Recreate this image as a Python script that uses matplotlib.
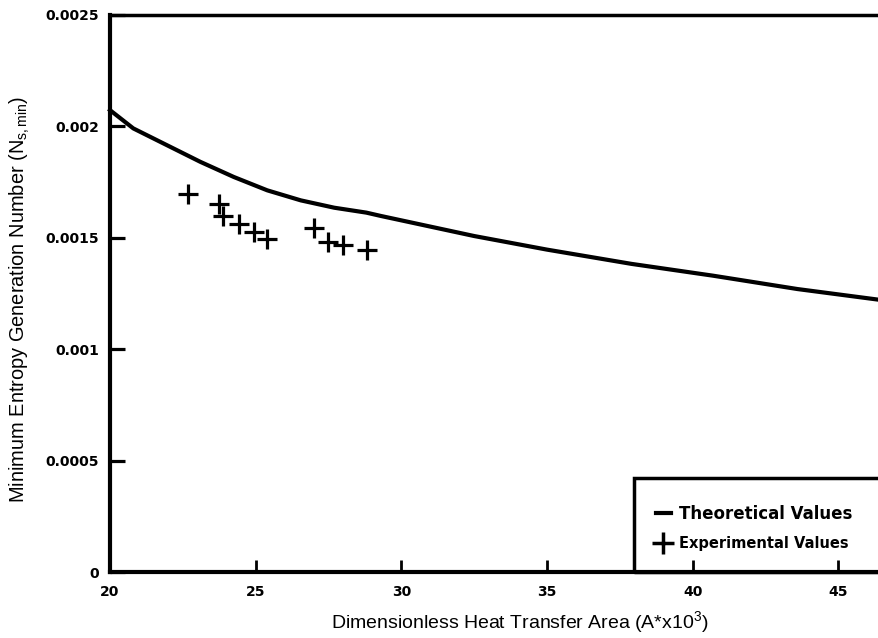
import matplotlib
matplotlib.use("Agg")
import matplotlib.pyplot as plt
from matplotlib.lines import Line2D
from matplotlib.patches import Rectangle

plt.rcParams['font.family'] = ['Liberation Sans', 'DejaVu Sans']
plt.rcParams['mathtext.fontset'] = 'custom'
plt.rcParams['mathtext.rm'] = 'Liberation Sans'
plt.rcParams['mathtext.it'] = 'Liberation Sans:italic'

# theoretical curve
theory_area = [20.0, 20.8, 21.95, 23.1, 24.25, 25.4, 26.55, 27.7, 28.8, 29.3,
               32.5, 35.0, 37.9, 40.7, 43.6, 46.4]
theory_ns = [0.002073, 0.001991, 0.001916, 0.001841, 0.001773, 0.001713, 0.001668,
             0.001635, 0.001613, 0.001598, 0.001508, 0.001447, 0.001383, 0.001330,
             0.001270, 0.001222]

# experimental points
exp_area = [22.68, 23.75, 23.88, 24.43, 24.95, 25.40, 27.01, 27.49, 28.01, 28.83]
exp_ns = [0.001698, 0.001653, 0.001600, 0.001563, 0.001526, 0.001495, 0.001544,
          0.001480, 0.001468, 0.001443]

xticks = [20, 25, 30, 35, 40, 45]
yticks = [0, 0.0005, 0.001, 0.0015, 0.002, 0.0025]
ytick_labels = ['0', '0.0005', '0.001', '0.0015', '0.002', '0.0025']

fig = plt.figure(figsize=(8.79, 6.38), dpi=100)
ax = fig.add_axes([110 / 879, 66 / 638, 769 / 879, 557 / 638])

ax.plot(theory_area, theory_ns, color='black', lw=3, solid_joinstyle='round', clip_on=False)
ax.plot(exp_area, exp_ns, ls='none', marker='+', ms=14, mew=2.3, color='black')

ax.set_xlim(20, 46.4)
ax.set_ylim(0, 0.0025)
ax.set_xticks(xticks)
ax.set_xticklabels([str(t) for t in xticks])
ax.set_yticks(yticks)
ax.set_yticklabels(ytick_labels)
ax.tick_params(axis='y', direction='in', length=11, width=2.3, pad=8, labelsize=10)
ax.tick_params(axis='x', direction='in', length=8.5, width=2, pad=9, labelsize=10)
for lab in ax.get_xticklabels() + ax.get_yticklabels():
    lab.set_fontweight('bold')
    lab.set_family('DejaVu Sans')

ax.spines['right'].set_visible(False)
ax.spines['left'].set_linewidth(3)
ax.spines['bottom'].set_linewidth(3)
ax.spines['top'].set_linewidth(2.5)

ax.set_xlabel('Dimensionless Heat Transfer Area (A*x10$^3$)', fontsize=14)
ax.xaxis.set_label_coords(0.533, -0.066)
ax.set_ylabel('Minimum Entropy Generation Number (N$_{\\mathrm{s,min}}$)', fontsize=14.4)
ax.yaxis.set_label_coords(-0.102, 0.49)

# legend box running off the right edge
ax.add_patch(Rectangle((0.682, 0.0), 0.4, 0.169, transform=ax.transAxes,
                       fill=False, lw=2.5, ec='black', clip_on=False, zorder=5))
handles = [Line2D([], [], color='black', lw=3),
           Line2D([], [], ls='none', marker='+', ms=16, mew=2.5, color='black')]
leg = ax.legend(handles, ['Theoretical Values', 'Experimental Values'],
                loc='lower left', bbox_to_anchor=(0.69, 0.01), frameon=False,
                handlelength=0.9, handletextpad=0.5, labelspacing=0.8,
                prop={'weight': 'bold', 'size': 12, 'family': 'DejaVu Sans'})
leg.get_texts()[1].set_fontsize(10.5)

fig.savefig('out.png', dpi=100)
